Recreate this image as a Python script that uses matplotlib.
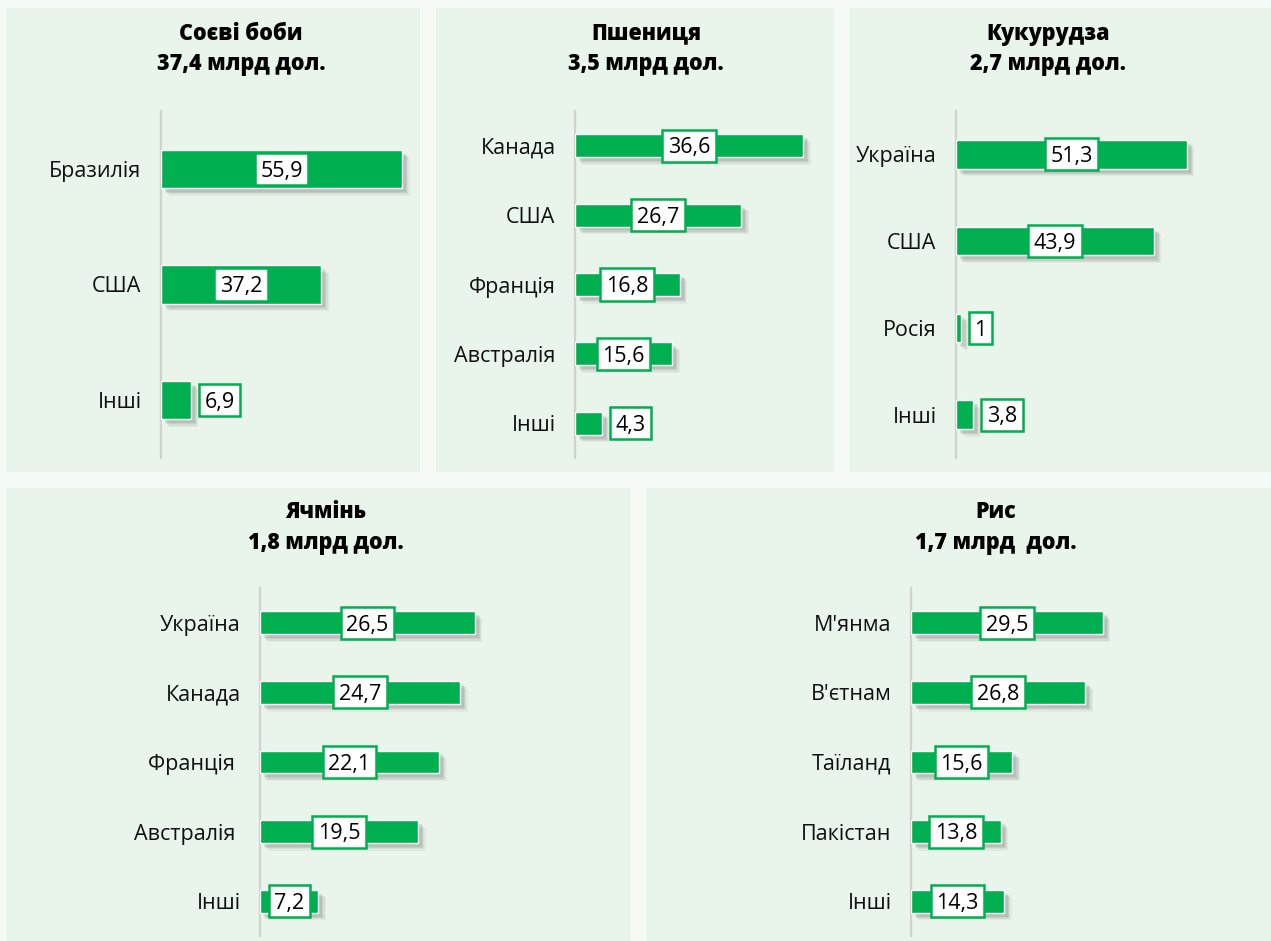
import matplotlib
matplotlib.use("Agg")
import matplotlib.pyplot as plt
import matplotlib.patheffects as pe
from matplotlib.patches import Rectangle

# ---------------- data ----------------
soy_countries = ["Бразилія", "США", "Інші"]
soy_values = [55.9, 37.2, 6.9]
soy_title = ["Соєві боби", "37,4 млрд дол."]

wheat_countries = ["Канада", "США", "Франція", "Австралія", "Інші"]
wheat_values = [36.6, 26.7, 16.8, 15.6, 4.3]
wheat_title = ["Пшениця", "3,5 млрд дол."]

corn_countries = ["Україна", "США", "Росія", "Інші"]
corn_values = [51.3, 43.9, 1, 3.8]
corn_title = ["Кукурудза", "2,7 млрд дол."]

barley_countries = ["Україна", "Канада", "Франція ", "Австралія ", "Інші"]
barley_values = [26.5, 24.7, 22.1, 19.5, 7.2]
barley_title = ["Ячмінь", "1,8 млрд дол."]

rice_countries = ["М'янма", "В'єтнам", "Таїланд", "Пакістан", "Інші"]
rice_values = [29.5, 26.8, 15.6, 13.8, 14.3]
rice_title = ["Рис", "1,7 млрд  дол."]

# ---------------- style ----------------
W, H = 1271, 941
GREEN = "#00b050"
PANEL_BG = "#e9f4ea"
FIG_BG = "#f5faf5"
FONT = ["Open Sans", "DejaVu Sans"]
plt.rcParams["font.family"] = FONT

fig = plt.figure(figsize=(W / 100, H / 100), dpi=100)
fig.patch.set_facecolor(FIG_BG)


def fx(x):
    return x / W


def fy(y):
    return 1 - y / H


# panel backgrounds (pixel boxes: x0, y0, x1, y1)
panels = [(7, 8, 420, 472), (436, 8, 834, 472), (849, 8, 1271, 472),
          (7, 488, 631, 941), (647, 488, 1271, 941)]
for x0, y0, x1, y1 in panels:
    fig.add_artist(Rectangle((fx(x0), fy(y1)), fx(x1) - fx(x0), fy(y0) - fy(y1),
                             transform=fig.transFigure, facecolor=PANEL_BG,
                             edgecolor="none", zorder=0))

shadow = [pe.SimplePatchShadow(offset=(o, -o), shadow_rgbFace="#404040", alpha=a)
          for o, a in [(5.5, 0.05), (4.6, 0.07), (3.7, 0.09), (2.8, 0.11)]] + [pe.Normal()]


def draw_panel(countries, values, title, ax_left, ax_right, ax_top, ax_bottom,
               xmax, title_x, title_base):
    ax = fig.add_axes([fx(ax_left), fy(ax_bottom), fx(ax_right) - fx(ax_left),
                       fy(ax_top) - fy(ax_bottom)])
    ax.set_facecolor("none")
    n = len(values)
    ypos = list(range(n))
    bars = ax.barh(ypos, values, height=0.33, color=GREEN, edgecolor="white",
                   linewidth=1.0, zorder=3)
    for b in bars:
        b.set_path_effects(shadow)
    ax.set_xlim(0, xmax)
    ax.set_ylim(n - 0.5, -0.5)
    ax.set_yticks(ypos)
    ax.set_yticklabels(countries, fontsize=15.5, color="#111111")
    ax.tick_params(axis="y", length=0, pad=14)
    ax.set_xticks([])
    for s in ["top", "right", "bottom"]:
        ax.spines[s].set_visible(False)
    ax.spines["left"].set_color("#cfd4cf")
    ax.spines["left"].set_linewidth(1.6)
    ax.spines["left"].set_zorder(2)

    px_per_unit = (ax_right - ax_left) / xmax
    for y, v in zip(ypos, values):
        txt = f"{v:g}".replace(".", ",")
        bbox = dict(boxstyle="square,pad=0.26", facecolor="white",
                    edgecolor=GREEN, linewidth=1.8)
        if v * px_per_unit >= 52:
            x, ha, dx = v / 2, "center", 0
        else:
            x, ha, dx = v, "left", 10
        # box (text invisible) and visible text nudged down to be optically centred
        ax.annotate(txt, xy=(x, y), xytext=(dx, 0), textcoords="offset points",
                    ha=ha, va="center", fontsize=15.5, color=(0, 0, 0, 0),
                    bbox=bbox, zorder=5)
        ax.annotate(txt, xy=(x, y), xytext=(dx, -1.6), textcoords="offset points",
                    ha=ha, va="center", fontsize=15.5, color="black", zorder=6)

    fig.text(fx(title_x), fy(title_base), title[0], ha="center", va="baseline",
             fontsize=15.5, fontweight="heavy", color="black")
    fig.text(fx(title_x), fy(title_base + 31), title[1], ha="center",
             va="baseline", fontsize=15.5, fontweight="heavy", color="black")
    return ax


draw_panel(soy_countries, soy_values, soy_title, 161, 419.6, 111, 458, 60, 241, 39.5)
draw_panel(wheat_countries, wheat_values, wheat_title, 575, 824.2, 111, 458, 40, 646, 39.5)
draw_panel(corn_countries, corn_values, corn_title, 956, 1226, 111, 458, 60, 1048, 39.5)
draw_panel(barley_countries, barley_values, barley_title, 260, 624.5, 588, 936, 45, 326, 518)
draw_panel(rice_countries, rice_values, rice_title, 911, 1236, 588, 936, 50, 996, 518)

fig.savefig("out.png", dpi=100, facecolor=fig.get_facecolor())
